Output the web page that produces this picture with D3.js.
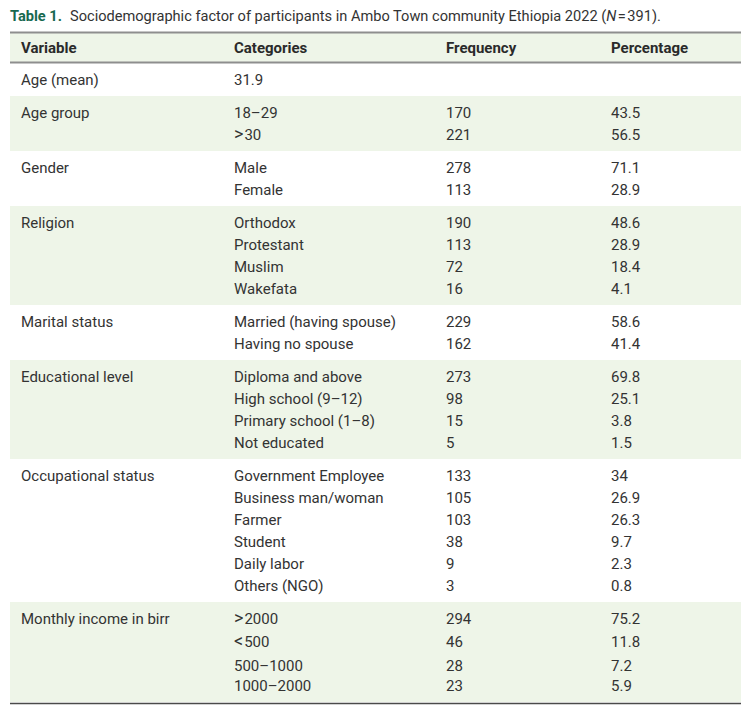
<!DOCTYPE html>
<html>
<head>
<meta charset="utf-8">
<script src="https://cdn.jsdelivr.net/npm/d3@7"></script>
<style>
  html, body { margin: 0; padding: 0; background: #fff; }
  svg { display: block; }
  text { font-family: Roboto, "Noto Sans", sans-serif; }
</style>
</head>
<body>
<svg id="chart" width="752" height="716"></svg>
<script>
// ---------------- data ----------------
const titleLabel = "Table 1.";
const titleText = "Sociodemographic factor of participants in Ambo Town community Ethiopia 2022 (";
const titleN = "N";
const titleTail = "\u200A=\u200A391).";

const columns = ["Variable", "Categories", "Frequency", "Percentage"];

const variables = [
  "Age (mean)", "Age group", "Gender", "Religion", "Marital status",
  "Educational level", "Occupational status", "Monthly income in birr"
];

const categories = [
  ["31.9"],
  ["18\u201329", ">30"],
  ["Male", "Female"],
  ["Orthodox", "Protestant", "Muslim", "Wakefata"],
  ["Married (having spouse)", "Having no spouse"],
  ["Diploma and above", "High school (9\u201312)", "Primary school (1\u20138)", "Not educated"],
  ["Government Employee", "Business man/woman", "Farmer", "Student", "Daily labor", "Others (NGO)"],
  [">2000", "<500", "500\u20131000", "1000\u20132000"]
];

const frequencies = [
  [null],
  [170, 221],
  [278, 113],
  [190, 113, 72, 16],
  [229, 162],
  [273, 98, 15, 5],
  [133, 105, 103, 38, 9, 3],
  [294, 46, 28, 23]
];

const percentages = [
  [null],
  [43.5, 56.5],
  [71.1, 28.9],
  [48.6, 28.9, 18.4, 4.1],
  [58.6, 41.4],
  [69.8, 25.1, 3.8, 1.5],
  [34, 26.9, 26.3, 9.7, 2.3, 0.8],
  [75.2, 11.8, 7.2, 5.9]
];

// ---------------- layout ----------------
const left = 10, right = 741;
const headerTop = 32.5, headerBottom = 62.5;
const padTop = 16.5, padBottom = 16.5, rowStep = 22;
const fontSize = 15;
const green = "#eef5e8";
const textColor = "#333333";

const svg = d3.select("#chart");

const xCol = d3.scaleOrdinal().domain(columns).range([21, 234, 446, 611]);

// row offsets within each group (last group has looser typesetting around < > glyphs)
function rowOffsets(gi, n) {
  if (gi === variables.length - 1) return [0, 23.5, 47, 67].slice(0, n);
  return d3.range(n).map(i => i * rowStep);
}

let y = headerBottom + 0.5;
const groups = variables.map((v, gi) => {
  const n = categories[gi].length;
  const offs = rowOffsets(gi, n);
  const top = y;
  const h = padTop + offs[n - 1] + padBottom;
  y += h;
  return {
    variable: v, gi, top, h,
    rows: categories[gi].map((c, i) => ({
      cat: c, freq: frequencies[gi][i], pct: percentages[gi][i], y: top + padTop + offs[i]
    }))
  };
});

// draws category text, enlarging leading comparison glyphs like the typeset original
function catText(sel) {
  sel.each(function(r) {
    const t = d3.select(this);
    const m = /^([<>])(.*)$/.exec(r.cat);
    if (m) {
      t.append("tspan").text(m[1])
        .style("font-size", (fontSize + 3) + "px");
      t.append("tspan").text(m[2]).attr("dx", 1);
    } else {
      t.text(r.cat);
    }
  });
}

// ---------------- title ----------------
const title = svg.append("text")
  .attr("x", left).attr("y", 16)
  .attr("dy", "0.35em")
  .style("font-size", "14.6px")
  .attr("fill", textColor);
title.append("tspan").text(titleLabel)
  .style("font-weight", "700").attr("fill", "#17694f");
title.append("tspan").attr("x", 70).text(titleText);
title.append("tspan").text(titleN).style("font-style", "italic");
title.append("tspan").text(titleTail);

// ---------------- header ----------------
svg.append("rect")
  .attr("x", left).attr("y", headerTop).attr("width", right - left).attr("height", headerBottom - headerTop)
  .attr("fill", green);
svg.selectAll("text.head").data(columns).join("text")
  .attr("class", "head")
  .attr("x", d => xCol(d)).attr("y", (headerTop + headerBottom) / 2 + 0.5)
  .attr("dy", "0.35em")
  .style("font-size", fontSize + "px").style("font-weight", "700")
  .attr("fill", "#2a2a2a")
  .text(d => d);

// ---------------- bands ----------------
svg.selectAll("rect.band").data(groups.filter(g => g.gi % 2 === 1)).join("rect")
  .attr("class", "band")
  .attr("x", left).attr("y", g => g.top).attr("width", right - left).attr("height", g => g.h)
  .attr("fill", green);

// ---------------- rules ----------------
svg.append("line").attr("x1", left).attr("x2", right).attr("y1", headerTop).attr("y2", headerTop)
  .attr("stroke", "#8e8e8e").attr("stroke-width", 2);
svg.append("line").attr("x1", left).attr("x2", right).attr("y1", headerBottom).attr("y2", headerBottom)
  .attr("stroke", "#8e8e8e").attr("stroke-width", 2);
const lastG = groups[groups.length - 1];
const bottomY = lastG.top + lastG.h + 1.5;
svg.append("line").attr("x1", left).attr("x2", right).attr("y1", bottomY).attr("y2", bottomY)
  .attr("stroke", "#4a4a4a").attr("stroke-width", 1.5);

// ---------------- cells ----------------
const gSel = svg.selectAll("g.group").data(groups).join("g").attr("class", "group");

gSel.append("text")
  .attr("x", xCol("Variable")).attr("y", g => g.top + padTop)
  .attr("dy", "0.35em")
  .style("font-size", fontSize + "px").attr("fill", textColor)
  .text(g => g.variable);

const rowSel = gSel.selectAll("g.row").data(g => g.rows).join("g").attr("class", "row");
rowSel.append("text")
  .attr("x", xCol("Categories")).attr("y", r => r.y).attr("dy", "0.35em")
  .style("font-size", fontSize + "px").attr("fill", textColor)
  .call(catText);
rowSel.filter(r => r.freq !== null).append("text")
  .attr("x", xCol("Frequency")).attr("y", r => r.y).attr("dy", "0.35em")
  .style("font-size", fontSize + "px").attr("fill", textColor)
  .text(r => String(r.freq));
rowSel.filter(r => r.pct !== null).append("text")
  .attr("x", xCol("Percentage")).attr("y", r => r.y).attr("dy", "0.35em")
  .style("font-size", fontSize + "px").attr("fill", textColor)
  .text(r => String(r.pct));
</script>
</body>
</html>
